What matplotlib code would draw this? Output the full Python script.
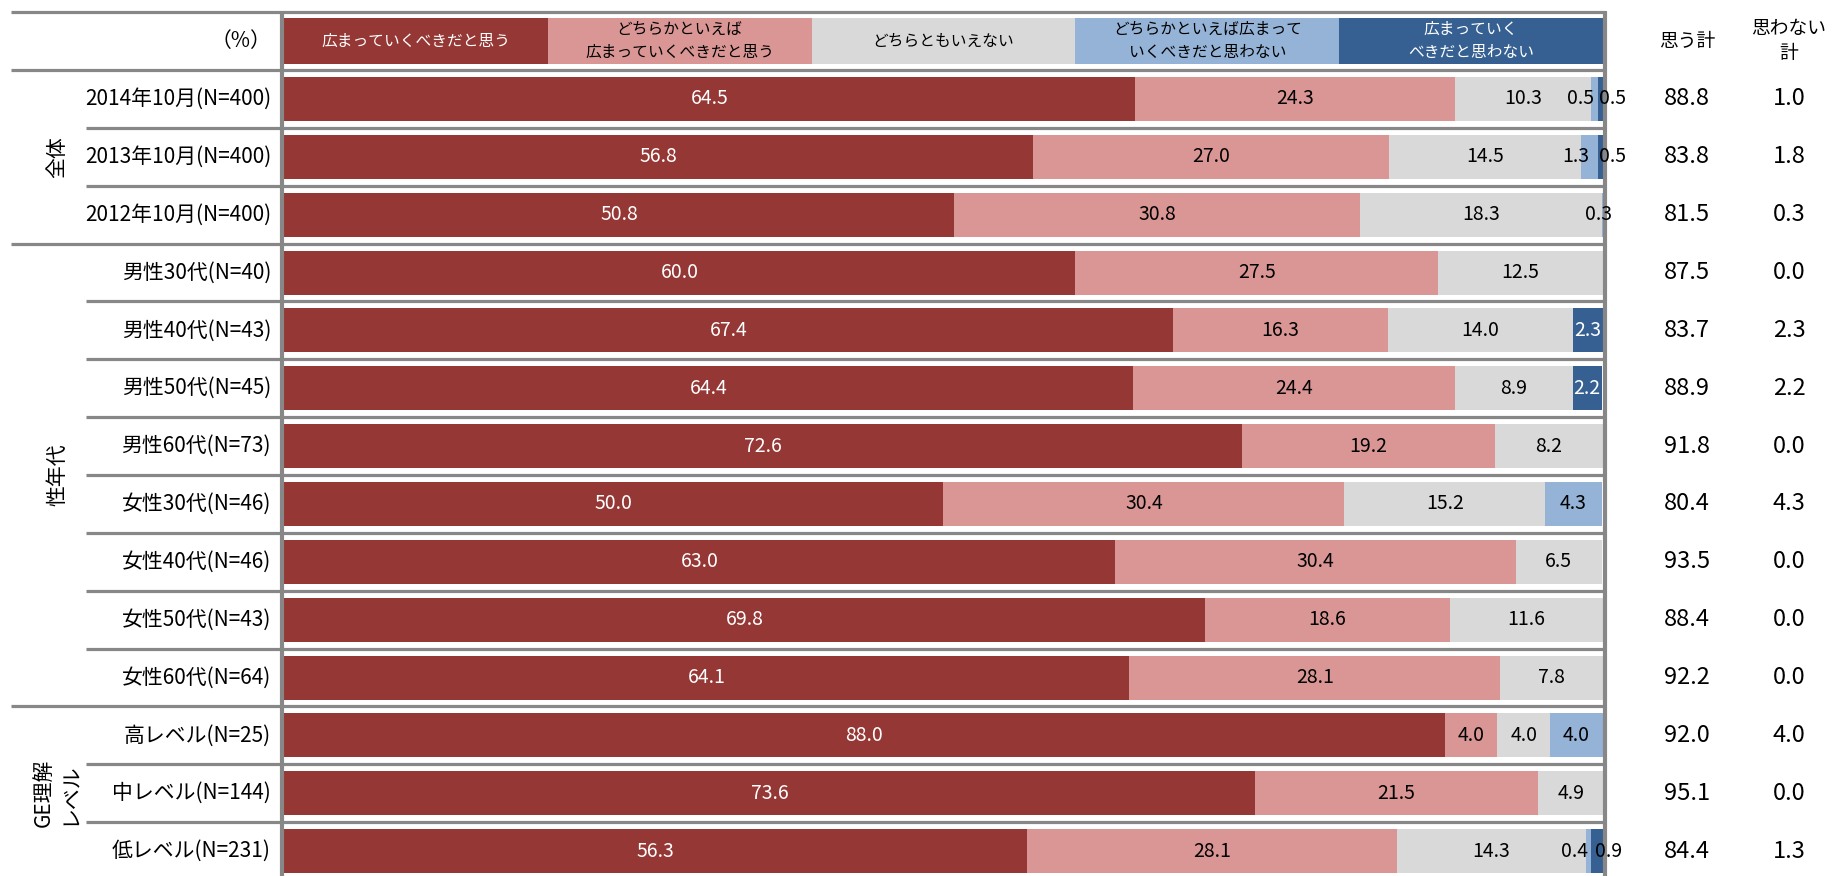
import numpy as np
import matplotlib
matplotlib.use("Agg")
import matplotlib.pyplot as plt

plt.rcParams['font.family'] = ['Noto Sans CJK JP', 'DejaVu Sans']

# -----------------------------
# DADOS
# -----------------------------

categorias = ["2014年10月(N=400)", "2013年10月(N=400)", "2012年10月(N=400)",
              "男性30代(N=40)", "男性40代(N=43)", "男性50代(N=45)", "男性60代(N=73)",
              "女性30代(N=46)", "女性40代(N=46)", "女性50代(N=43)", "女性60代(N=64)",
              "高レベル(N=25)", "中レベル(N=144)", "低レベル(N=231)"]

grupos = ["全体", "性年代", "GE理解\nレベル"]
grupo_linhas = [(0, 2), (3, 10), (11, 13)]

legenda = ["広まっていくべきだと思う",
           "どちらかといえば\n広まっていくべきだと思う",
           "どちらともいえない",
           "どちらかといえば広まって\nいくべきだと思わない",
           "広まっていく\nべきだと思わない"]

hiromaru = [64.5, 56.8, 50.8, 60.0, 67.4, 64.4, 72.6, 50.0, 63.0, 69.8, 64.1, 88.0, 73.6, 56.3]
dochira_hiromaru = [24.3, 27.0, 30.8, 27.5, 16.3, 24.4, 19.2, 30.4, 30.4, 18.6, 28.1, 4.0, 21.5, 28.1]
dochira_tomo = [10.3, 14.5, 18.3, 12.5, 14.0, 8.9, 8.2, 15.2, 6.5, 11.6, 7.8, 4.0, 4.9, 14.3]
dochira_nai = [0.5, 1.3, 0.3, 0.0, 0.0, 0.0, 0.0, 4.3, 0.0, 0.0, 0.0, 4.0, 0.0, 0.4]
hiromaranai = [0.5, 0.5, 0.0, 0.0, 2.3, 2.2, 0.0, 0.0, 0.0, 0.0, 0.0, 0.0, 0.0, 0.9]

omou_kei = [88.8, 83.8, 81.5, 87.5, 83.7, 88.9, 91.8, 80.4, 93.5, 88.4, 92.2, 92.0, 95.1, 84.4]
omowanai_kei = [1.0, 1.8, 0.3, 0.0, 2.3, 2.2, 0.0, 4.3, 0.0, 0.0, 0.0, 4.0, 0.0, 1.3]

series = [hiromaru, dochira_hiromaru, dochira_tomo, dochira_nai, hiromaranai]
cores = ["#953735", "#D99694", "#D9D9D9", "#95B3D7", "#376092"]
cor_texto = ["white", "black", "black", "black", "white"]

# -----------------------------
# GRÁFICO
# -----------------------------

W, H = 1833, 876
x0, x1 = 284, 1603
fig = plt.figure(figsize=(W / 100, H / 100), dpi=100)
ax = fig.add_axes([x0 / W, 0, (x1 - x0) / W, 1])
ax.set_xlim(0, 100)
ax.set_ylim(13.43, -1.71)
ax.axis('off')

def fx(px):
    # posição em pixels -> fração do eixo
    return (px - x0) / (x1 - x0)

trans = ax.get_yaxis_transform()
n = len(categorias)
y = np.arange(n)
esq = np.zeros(n)
ncat = len(series)

for j, vals in enumerate(series):
    vals = np.array(vals)
    ax.barh(y, vals, left=esq, height=0.76, color=cores[j], lw=0)
    # cabeçalho (legenda)
    larg = 100 / ncat
    ax.barh(-1, larg, left=larg * j, height=0.80, color=cores[j], lw=0)
    ax.text(larg * j + larg / 2, -1, legenda[j], ha='center', va='center',
            color=cor_texto[j], fontsize=11.3, linespacing=1.45)
    for i in range(n):
        v = vals[i]
        if v <= 0:
            continue
        dx = 0
        cor = cor_texto[j]
        if v < 2 and j == 3:
            dx = -10 if hiromaranai[i] > 0 else -4
        elif v < 2 and j == 4:
            dx = 8
            cor = "black"
        ax.annotate(f"{v:.1f}", (esq[i] + v / 2, i), xytext=(dx, 0),
                    textcoords='offset points', ha='center', va='center',
                    color=cor, fontsize=14, annotation_clip=False)
    esq += vals

# linhas
cinza = "#878787"
inicio_grupo = [g[0] for g in grupo_linhas]
for k in range(-1, n):
    yy = k - 0.5
    if k <= 0 or k in inicio_grupo:
        xs = fx(11)
    else:
        xs = fx(86)
    ax.plot([xs, fx(1605)], [yy, yy], transform=trans, color=cinza, lw=2.3,
            clip_on=False, solid_capstyle='butt')
for px in (282, 1605):
    ax.plot([fx(px), fx(px)], [-1.52, 13.6], transform=trans, color=cinza, lw=3,
            clip_on=False, solid_capstyle='butt')

# rótulos à esquerda
ax.text(fx(271), -1, "（%）", transform=trans, ha='right', va='center', fontsize=15)
for i, c in enumerate(categorias):
    ax.text(fx(271), i, c, transform=trans, ha='right', va='center', fontsize=15)

for g, (a, b) in zip(grupos, grupo_linhas):
    ax.text(fx(57), (a + b) / 2, g, transform=trans, ha='center', va='center',
            rotation=90, fontsize=15, linespacing=1.25)

# colunas à direita
ax.text(fx(1687), -1, "思う計", transform=trans, ha='center', va='center', fontsize=13.5)
ax.text(fx(1789), -1, "思わない\n計", transform=trans, ha='center', va='center',
        fontsize=13.5, linespacing=1.3)
for i in range(n):
    ax.text(fx(1687), i, f"{omou_kei[i]:.1f}", transform=trans, ha='center',
            va='center', fontsize=17)
    ax.text(fx(1789), i, f"{omowanai_kei[i]:.1f}", transform=trans, ha='center',
            va='center', fontsize=17)

fig.savefig("out.png", dpi=100)
